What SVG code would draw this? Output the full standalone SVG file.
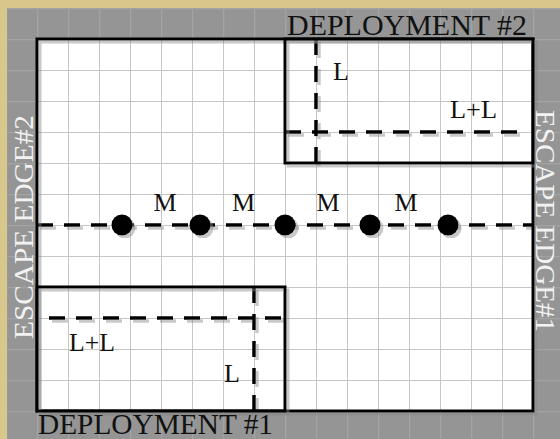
<svg xmlns="http://www.w3.org/2000/svg" width="560" height="439" viewBox="0 0 560 439">
  <style>
    .lbl { font-family: "Liberation Serif", "Times New Roman", serif; fill: #111; }
    .big { font-size: 29px; }
    .mid { font-size: 26px; }
    .edge { font-family: "Liberation Serif", "Times New Roman", serif; font-size: 28px; fill: #f2f2f2; }
    .edge1 { font-size: 27px; }
    .border { fill: none; stroke: #000; stroke-width: 3; }
    .dash { fill: none; stroke: #000; stroke-width: 3.5; stroke-dasharray: 16 11; }
    .dot { fill: #000; }
  </style>
  <defs>
    <pattern id="gridGray" patternUnits="userSpaceOnUse" x="6" y="8" width="31" height="31">
      <path d="M0.5 0 V31 M0 0.5 H31" stroke="#a3a3a3" stroke-width="1.5" fill="none"/>
    </pattern>
    <pattern id="gridWhite" patternUnits="userSpaceOnUse" x="6" y="8" width="31" height="31">
      <path d="M0 0 V31 M0 0 H31" stroke="#c6c6c6" stroke-width="2" fill="none"/>
    </pattern>
    <filter id="shadow" x="-5%" y="-5%" width="115%" height="115%">
      <feDropShadow dx="3" dy="3" stdDeviation="0.6" flood-color="#888" flood-opacity="0.45"/>
    </filter>
  </defs>

  <!-- parchment & gray board -->
  <rect x="0" y="0" width="560" height="439" fill="#d8c78b"/>
  <rect x="7" y="8" width="553" height="431" fill="#959595"/>
  <rect x="7" y="8" width="553" height="431" fill="url(#gridGray)"/>

  <!-- play area -->
  <rect x="37" y="39" width="496" height="372" fill="#fff"/>
  <rect x="37" y="39" width="496" height="372" fill="url(#gridWhite)"/>

  <g id="connectors" filter="url(#shadow)">
    <line class="dash" x1="37" y1="225" x2="533" y2="225"/>
    <line class="dash" x1="316" y1="39" x2="316" y2="163"/>
    <line class="dash" x1="285" y1="132" x2="522" y2="132"/>
    <line class="dash" x1="49" y1="318" x2="285" y2="318"/>
    <line class="dash" x1="254" y1="287" x2="254" y2="411"/>
  </g>

  <g id="board" filter="url(#shadow)">
    <rect class="border" x="37" y="39" width="496" height="372"/>
  </g>
  <g id="deployment2" filter="url(#shadow)">
    <rect class="border" x="285" y="39" width="248" height="124"/>
  </g>
  <g id="deployment1" filter="url(#shadow)">
    <rect class="border" x="37" y="287" width="248" height="124"/>
  </g>

  <g id="objectives" filter="url(#shadow)">
    <circle class="dot" cx="122" cy="225" r="10.5"/>
    <circle class="dot" cx="200" cy="225" r="10.5"/>
    <circle class="dot" cx="285" cy="225" r="10.5"/>
    <circle class="dot" cx="370" cy="225" r="10.5"/>
    <circle class="dot" cx="448" cy="225" r="10.5"/>
  </g>

  <g id="m-labels">
    <text class="lbl mid" x="165" y="211" text-anchor="middle">M</text>
    <text class="lbl mid" x="243.5" y="211" text-anchor="middle">M</text>
    <text class="lbl mid" x="328" y="211" text-anchor="middle">M</text>
    <text class="lbl mid" x="406" y="211" text-anchor="middle">M</text>
  </g>

  <g id="deployment2-labels">
    <text class="lbl big" x="287" y="35" textLength="240" lengthAdjust="spacingAndGlyphs">DEPLOYMENT #2</text>
    <text class="lbl mid" x="333" y="80">L</text>
    <text class="lbl mid" x="450" y="118" textLength="47" lengthAdjust="spacingAndGlyphs">L+L</text>
  </g>

  <g id="deployment1-labels">
    <text class="lbl big" x="38" y="434" textLength="235" lengthAdjust="spacingAndGlyphs">DEPLOYMENT #1</text>
    <text class="lbl mid" x="69" y="351" textLength="46" lengthAdjust="spacingAndGlyphs">L+L</text>
    <text class="lbl mid" x="224" y="382">L</text>
  </g>

  <g id="escape-edges">
    <text class="edge" transform="translate(33,227) rotate(-90)" text-anchor="middle" textLength="224" lengthAdjust="spacingAndGlyphs">ESCAPE EDGE#2</text>
    <text class="edge edge1" transform="translate(536,221) rotate(90)" text-anchor="middle" textLength="222" lengthAdjust="spacingAndGlyphs">ESCAPE EDGE#1</text>
  </g>
</svg>
